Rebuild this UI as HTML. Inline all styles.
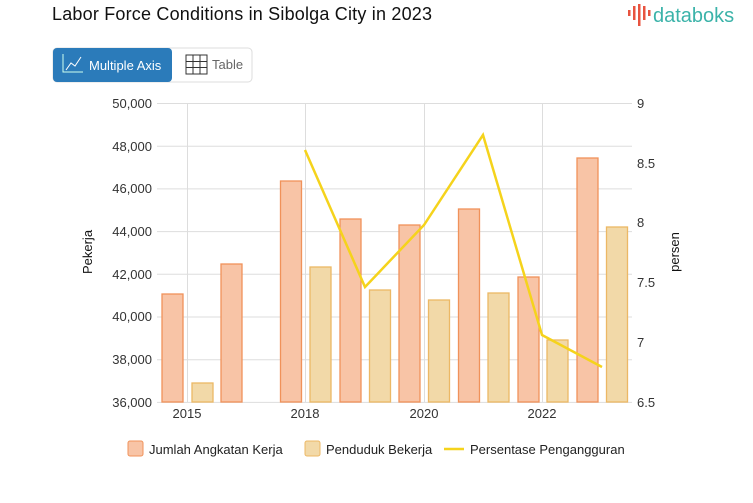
<!DOCTYPE html>
<html><head><meta charset="utf-8"><style>
body{margin:0;background:#fff;font-family:"Liberation Sans",sans-serif;}
</style></head><body>
<svg width="753" height="498" xmlns="http://www.w3.org/2000/svg" font-family="Liberation Sans, sans-serif">
<text x="52" y="20" font-size="18" fill="#111" textLength="380">Labor Force Conditions in Sibolga City in 2023</text>
<g>
<rect x="628" y="10" width="2.5" height="6" fill="#e8533f"/>
<rect x="633" y="6" width="2.5" height="14" fill="#e8533f"/>
<rect x="638" y="4" width="2.5" height="22" fill="#e8533f"/>
<rect x="643" y="6" width="2.5" height="14" fill="#e8533f"/>
<rect x="648" y="10" width="2.5" height="6" fill="#e8533f"/>
<text x="653" y="22" font-size="20" fill="#3bb3a9">databoks</text>
</g>
<rect x="53" y="48" width="199" height="34" rx="4" fill="#fff" stroke="#ddd"/>
<rect x="53" y="48" width="119" height="34" rx="4" fill="#2b7bba"/>
<path d="M63 54v18h20" stroke="#cfe" fill="none"/>
<path d="M66 70l5-7 4 3 6-9" stroke="#fff" fill="none"/>
<text x="89" y="70" font-size="13" fill="#fff">Multiple Axis</text>
<g stroke="#333" fill="none"><rect x="186" y="55" width="21" height="19"/><path d="M193 55v19M200 55v19M186 61.5h21M186 67.5h21"/></g>
<text x="212" y="69" font-size="13" fill="#666">Table</text>
<g stroke="#ddd" stroke-width="1">
<line x1="157" y1="103.5" x2="632" y2="103.5"/><line x1="157" y1="146.2" x2="632" y2="146.2"/><line x1="157" y1="188.9" x2="632" y2="188.9"/><line x1="157" y1="231.6" x2="632" y2="231.6"/><line x1="157" y1="274.3" x2="632" y2="274.3"/><line x1="157" y1="317" x2="632" y2="317"/><line x1="157" y1="359.7" x2="632" y2="359.7"/><line x1="157" y1="402.4" x2="632" y2="402.4"/>
<line x1="187.5" y1="103" x2="187.5" y2="402"/><line x1="305.5" y1="103" x2="305.5" y2="402"/><line x1="424.5" y1="103" x2="424.5" y2="402"/><line x1="542.5" y1="103" x2="542.5" y2="402"/>
</g>
<g font-size="13" fill="#333" text-anchor="end">
<text x="152" y="108">50,000</text><text x="152" y="151">48,000</text><text x="152" y="193">46,000</text><text x="152" y="236">44,000</text><text x="152" y="279">42,000</text><text x="152" y="321">40,000</text><text x="152" y="364">38,000</text><text x="152" y="407">36,000</text>
</g>
<g font-size="13" fill="#333">
<text x="637" y="108">9</text><text x="637" y="168">8.5</text><text x="637" y="227">8</text><text x="637" y="287">7.5</text><text x="637" y="347">7</text><text x="637" y="407">6.5</text>
</g>
<g font-size="13" fill="#333" text-anchor="middle">
<text x="187" y="418">2015</text><text x="305" y="418">2018</text><text x="424" y="418">2020</text><text x="542" y="418">2022</text>
</g>
<text transform="translate(92,252) rotate(-90)" font-size="13" fill="#111" text-anchor="middle">Pekerja</text>
<text transform="translate(679,252) rotate(-90)" font-size="13" fill="#111" text-anchor="middle">persen</text>
<g fill="#f8c4a6" stroke="#f0925a" stroke-width="1.3">
<rect x="162" y="294" width="21" height="108"/>
<rect x="221" y="264" width="21" height="138"/>
<rect x="280.5" y="181" width="21" height="221"/>
<rect x="340" y="219" width="21" height="183"/>
<rect x="399" y="225" width="21" height="177"/>
<rect x="458.5" y="209" width="21" height="193"/>
<rect x="518" y="277" width="21" height="125"/>
<rect x="577" y="158" width="21" height="244"/>
</g>
<g fill="#f2d9a8" stroke="#ecb865" stroke-width="1.3">
<rect x="192" y="383" width="21" height="19"/>
<rect x="310" y="267" width="21" height="135"/>
<rect x="369.5" y="290" width="21" height="112"/>
<rect x="428.5" y="300" width="21" height="102"/>
<rect x="488" y="293" width="21" height="109"/>
<rect x="547" y="340" width="21" height="62"/>
<rect x="606.5" y="227" width="21" height="175"/>
</g>
<polyline points="305,150 365,287 424,225 483,135 542,335 602,367" fill="none" stroke="#f5d31c" stroke-width="2.5"/>
<g font-size="13" fill="#222">
<rect x="128" y="441" width="15" height="15" rx="2" fill="#f8c4a6" stroke="#f0925a"/>
<text x="149" y="454">Jumlah Angkatan Kerja</text>
<rect x="305" y="441" width="15" height="15" rx="2" fill="#f2d9a8" stroke="#ecb865"/>
<text x="326" y="454">Penduduk Bekerja</text>
<line x1="444" y1="449" x2="464" y2="449" stroke="#f5d31c" stroke-width="2.5"/>
<text x="470" y="454">Persentase Pengangguran</text>
</g>
</svg>
</body></html>
